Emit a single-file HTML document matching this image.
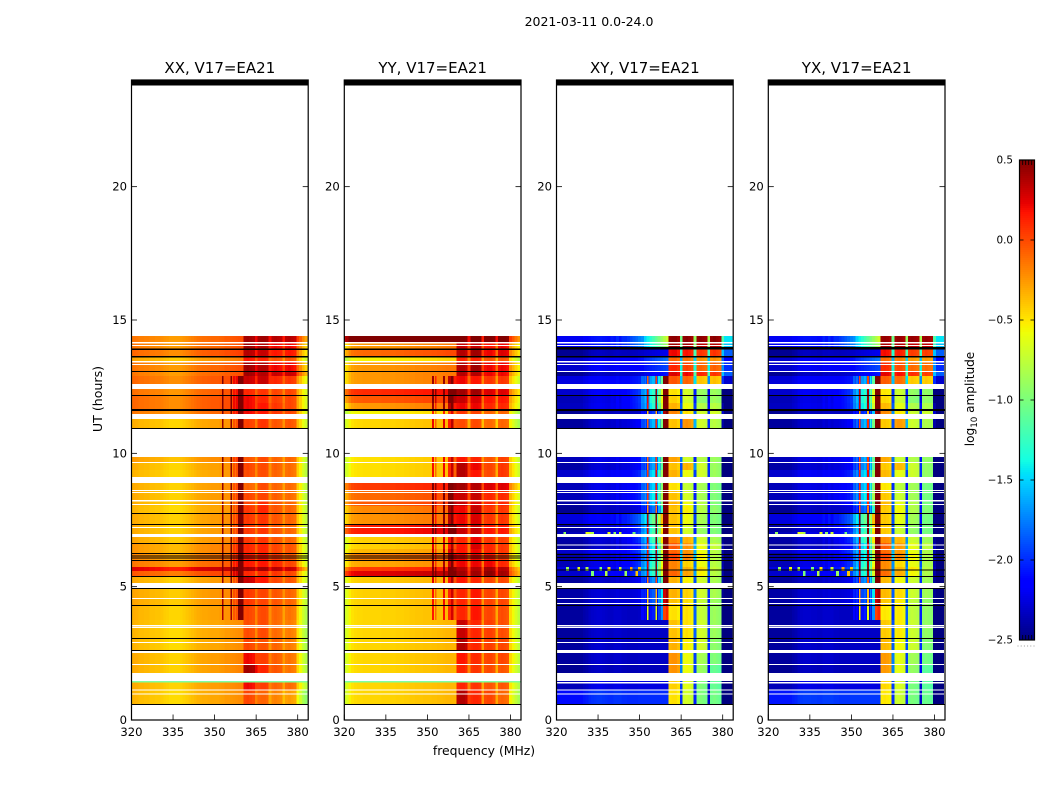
<!DOCTYPE html>
<html lang="en">
<head>
<meta charset="utf-8">
<title>2021-03-11 dynamic spectra</title>
<style>
html,body{margin:0;padding:0;background:#fff;}
svg{display:block;}
text{font-family:"DejaVu Sans","Liberation Sans",sans-serif;fill:#000;}
</style>
</head>
<body>
<svg id="figure" xmlns="http://www.w3.org/2000/svg" width="1050" height="800" viewBox="0 0 1050 800">
  <rect x="0" y="0" width="1050" height="800" fill="#fff"/>
  <text x="589" y="26" font-size="12.5" text-anchor="middle">2021-03-11 0.0-24.0</text>
  <text transform="translate(102,399) rotate(-90)" font-size="12.6" text-anchor="middle">UT (hours)</text>
  <text x="484" y="755" font-size="12.4" text-anchor="middle">frequency (MHz)</text>
  <text transform="translate(974,399) rotate(-90)" font-size="12.1" text-anchor="middle">log<tspan font-size="8.7" dy="3">10</tspan><tspan dy="-3"> amplitude</tspan></text>
  <g id="panels"></g>
  <g id="colorbar"></g>
</svg>
<script>
// ---- data ----
const panelTitles = ["XX, V17=EA21", "YY, V17=EA21", "XY, V17=EA21", "YX, V17=EA21"];
const freqTicks = [320, 335, 350, 365, 380];
const utTicks = [0, 5, 10, 15, 20];
const colorbarTicks = [0.5, 0.0, -0.5, -1.0, -1.5, -2.0, -2.5];
const firstChannel = 320;

// time band edges in UT hours (top to bottom)
const bandEdgesUT = [14.4,14.175,13.9125,13.65,13.425,13.0875,12.9,12.6,12.41,12.19,
  11.89,11.66,11.475,11.29,10.95,9.86,9.675,9.375,9.11,8.89,
  8.625,8.25,8.025,7.76,7.35,7.05,6.975,6.86,6.64,6.41,
  6.26,6.0,5.74,5.59,5.4,5.14,4.95,4.575,4.31,3.75,
  3.075,2.625,2.51,2.1,1.76,1.46,1.125,0.6];

// per-channel shape, 320..383: absolute log10 amplitude up to 360, offset from the sub-band level above
const spectrumXX = [-.37,-.34,-.35,-.37,-.37,-.38,-.38,-.40,-.40,-.41,
  -.41,-.42,-.44,-.45,-.47,-.47,-.47,-.47,-.46,-.44,
  -.42,-.40,-.38,-.36,-.34,-.33,-.32,-.32,-.31,-.30,
  -.30,-.30,-.29,-.28,-.26,-.26,-.25,-.24,-.23,-.22,
  -.22,0,.02,0,-.02,-.18,0,.02,.02,0,
  -.2,0,.02,0,-.02,-.18,0,.02,0,-.03,
  -.3,-.42,-.55,-.65];
const spectrumYY = [-.72,-.60,-.50,-.44,-.42,-.41,-.41,-.40,-.40,-.40,
  -.40,-.40,-.40,-.40,-.39,-.39,-.39,-.39,-.39,-.38,
  -.38,-.38,-.37,-.37,-.36,-.36,-.35,-.35,-.35,-.34,
  -.34,-.34,-.33,-.33,-.32,-.32,-.31,-.30,-.30,-.30,
  -.30,0,.02,.02,-.02,-.3,0,.02,.02,0,
  -.35,0,.02,.02,-.02,-.3,0,.02,0,-.03,
  -.45,-.55,-.65,-.75];
const spectrumXY = [-2.45,-2.45,-2.45,-2.45,-2.45,-2.45,-2.45,-2.45,-2.45,-2.45,
  -2.42,-2.40,-2.36,-2.34,-2.33,-2.32,-2.32,-2.33,-2.34,-2.35,
  -2.35,-2.33,-2.33,-2.33,-2.35,-2.35,-2.36,-2.36,-2.36,-2.36,
  -2.35,-2.35,-2.35,-2.35,-2.35,-2.35,-2.35,-2.35,-2.35,-2.35,
  -2.35,0,.02,.02,-.03,-1.5,0,.03,0,-.04,
  -1.35,0,.02,0,-.03,-1.3,0,.03,0,-.03,
  -1.6,-1.9,-1.9,-1.9];
const spectrumYX = [-2.45,-2.45,-2.45,-2.45,-2.45,-2.45,-2.45,-2.45,-2.45,-2.42,
  -2.40,-2.36,-2.34,-2.33,-2.33,-2.33,-2.34,-2.34,-2.35,-2.35,
  -2.33,-2.33,-2.33,-2.33,-2.35,-2.35,-2.36,-2.36,-2.36,-2.36,
  -2.35,-2.35,-2.35,-2.35,-2.35,-2.35,-2.35,-2.35,-2.35,-2.35,
  -2.35,-.02,0,-.02,-.05,-1.5,-.03,0,-.02,-.06,
  -1.35,-.02,0,-.02,-.05,-1.3,-.03,0,-.03,-.05,
  -1.6,-1.9,-1.9,-1.9];

// per-band level shift below the 360.5 MHz band edge
const lowXX = [.2,.2,.25,.05,.2,.2,.25,0,.22,.25,
  .25,.2,0,.02,0,.08,.02,0,0,.03,
  .03,.02,0,.03,.03,.03,0,.05,.1,.1,
  .15,.2,.6,.3,.03,0,.05,.05,.02,0,
  0,0,.03,.03,0,.03,0];
const lowYY = [1,.15,.3,-.15,.15,.15,.15,0,.5,.35,
  .15,-.15,0,-.05,0,-.08,-.08,-.08,0,.45,
  .3,.35,.2,.17,.55,.55,0,-.03,-.03,.05,
  .23,.1,.45,.65,-.02,0,-.03,-.03,-.05,-.05,
  -.05,0,-.05,-.05,0,-.05,-.05];
const lowXY = [.25,.25,0,.15,.15,0,.2,0,.15,.1,
  .12,0,0,.03,0,.1,.05,.15,0,.1,
  .1,.05,0,.2,.05,.1,0,.05,.02,.15,
  .05,.1,.2,.15,.02,0,.05,.05,.03,.03,
  .03,0,.03,0,0,.1,.35];
const lowYX = [.25,.25,0,.15,.15,0,.18,0,.15,.1,
  .12,0,0,.03,0,.1,.05,.15,0,.1,
  .1,.05,0,.2,.05,.1,0,.05,.02,.15,
  .05,.1,.2,.15,.02,0,.05,.05,.03,.03,
  .03,0,.03,0,0,.1,.38];

// per-band level of the four 5 MHz sub-bands above 360.5 MHz
const subBandsXX = [[.4,.4,.35,.35],[.4,.35,.2,.2],[.35,.3,.15,.15],[.15,.1,-.05,-.05],[.4,.35,.2,.2],[.4,.35,.3,.3],[.3,.3,.1,.05],[0,0,0,0],
  [.1,.05,0,0],[.2,.1,.02,0],[.2,.15,.05,0],[.2,.15,.05,0],[0,0,0,0],[.02,.05,-.05,-.05],[0,0,0,0],
  [-.05,-.02,-.1,-.1],[0,-.02,-.08,-.12],[-.02,-.03,-.1,-.13],[0,0,0,0],[-.1,-.02,-.1,-.12],[0,0,-.08,-.12],
  [0,.08,-.05,-.1],[.05,.1,-.05,-.1],[.05,.05,-.05,-.1],[.05,.05,-.05,-.1],[.05,.05,-.05,-.1],[0,0,0,0],
  [.05,.05,-.05,-.1],[.1,.1,0,-.05],[.1,.1,0,-.05],[.15,.15,.05,-.05],[.15,.15,.1,0],[.4,.4,.35,.3],
  [.1,.1,.05,0],[.3,.15,0,-.05],[0,0,0,0],[.05,0,-.05,-.1],[.05,0,-.05,-.1],[0,-.02,-.1,-.15],
  [-.02,-.02,-.12,-.18],[0,-.05,-.1,-.18],[0,0,0,0],[.2,.02,-.08,-.15],[.4,.1,-.05,-.15],[0,0,0,0],
  [.2,.02,-.1,-.12],[0,-.1,-.2,-.28]];
const subBandsYY = [[.5,.5,.5,.5],[.3,.3,.15,.2],[.35,.4,.2,.25],[.1,.1,-.05,-.05],[.35,.4,.2,.2],[.35,.35,.2,.2],[.2,.15,.05,.05],[0,0,0,0],
  [.4,.4,.25,.25],[.3,.25,.15,.15],[.2,.2,.1,.1],[.05,0,-.1,-.1],[0,0,0,0],[-.02,-.02,-.12,-.1],[0,0,0,0],
  [.15,.1,-.05,.02],[.35,.2,0,.05],[.35,.15,-.02,.05],[0,0,0,0],[.4,.35,.25,.25],[.3,.3,.1,.1],
  [.3,.25,.1,.1],[.2,.3,.05,.05],[.2,.25,.05,.05],[.3,.3,.15,.15],[.3,.3,.15,.15],[0,0,0,0],
  [.1,.2,.05,.02],[.15,.25,.1,.05],[.15,.2,.1,.05],[.2,.2,.15,.05],[.2,.2,.2,.1],[.35,.35,.4,.35],
  [.4,.4,.45,.4],[.15,.1,0,0],[0,0,0,0],[.1,.15,0,0],[.1,.1,0,0],[.1,.15,0,-.02],
  [.3,.1,.02,-.02],[.35,.1,.02,0],[0,0,0,0],[.15,.08,0,0],[.1,.05,-.02,-.05],[0,0,0,0],
  [.1,.05,-.05,-.05],[.35,.1,0,-.1]];
const subBandsCross = [[.45,.45,.45,.45],[.4,.4,.35,.35],[.2,.15,.05,.05],[-.1,-.15,-.25,-.25],[.1,0,-.1,-.1],[.25,.2,.1,.05],[-.05,-.1,-.4,-.4],[0,0,0,0],
  [-.5,-.7,-.9,-.9],[-.45,-.7,-.95,-.9],[-.35,-.6,-.8,-.8],[-.2,-.5,-.7,-.7],[0,0,0,0],[-.4,-.25,-.7,-.8],[0,0,0,0],
  [-.3,-.7,-.8,-.9],[-.4,-.35,-.7,-.9],[-.35,-.6,-.7,-.9],[0,0,0,0],[-.5,-.75,-.85,-1],[-.4,-.7,-.85,-1],
  [-.35,-.6,-.8,-1],[-.4,-.55,-.8,-.95],[-.4,-.6,-.85,-1],[-.4,-.7,-.9,-1],[-.4,-.7,-.9,-1],[0,0,0,0],
  [-.2,-.35,-.7,-.85],[-.05,-.25,-.6,-.75],[-.1,-.25,-.6,-.8],[0,-.2,-.55,-.8],[-.2,-.45,-.6,-.8],[-.2,-.35,-.5,-.75],
  [-.1,-.3,-.55,-.8],[-.35,-.55,-.7,-.85],[0,0,0,0],[-.35,-.45,-.7,-.85],[-.4,-.5,-.75,-.9],[-.5,-.5,-.75,-.9],
  [-.4,-.5,-.7,-.9],[-.35,-.55,-.7,-.95],[0,0,0,0],[-.25,-.6,-.85,-1],[-.25,-.6,-.9,-1.1],[0,0,0,0],
  [-.45,-.65,-1,-1.1],[-.5,-.7,-1,-1.05]];

// how strongly the interference lines show in each band
const rfiOn = [0,0,0,0,0,0,1,0,1,1,
  1,1,0,1,0,1,1,1,0,1,
  1,1,1,1,1,1,0,1,1,1,
  1,1,1,1,1,0,.9,.9,.9,0,
  0,0,0,0,0,0,0];
const rfiChannels = [351,352,353,354,355,356,357,358,359,360];
const rfiWidthMHz = [1,.6,.6,1,1,.6,.6,1,1,1];
const rfiBoostXX = [0,0,.7,0,0,.7,.2,.2,.85,.85];
const rfiBoostYY = [0,.6,.3,0,0,.6,0,.5,.7,.3];
const rfiBoostXY = [.2,.2,1.9,.25,.3,1.9,.4,.7,2.6,2.7];
const rfiBoostYX = [.2,.2,2.0,.25,.3,1.9,.4,.7,2.6,2.7];

// rise of the cross-hand level towards the band edge
const edgeOn = [1,.9,.1,.3,.2,.2,.3,0,.7,.8,
  .7,.1,0,.5,0,.4,.4,.5,0,.5,
  .6,.5,.3,.9,.9,.9,0,.9,.7,.7,
  .7,.8,.8,.7,.4,0,.2,.2,0,0,
  0,0,0,0,0,0,0];
const edgeChannels = [340,342,344,345,346,347,348,349,350,351,352,353,354,355,356,357,358,359,360];
const edgeBoost = [.05,.08,.1,.1,.15,.2,.25,.3,.35,.4,.6,.7,.8,.9,1,1.1,1.2,1.3,1.4];
const edgeNone = [0,0,0,0,0,0,0,0,0,0,0,0,0,0,0,0,0,0,0];

// isolated hot pixels in the cross hands: band, channel, value
const spikeBands = [25,25,25,25,25,25,25,25,32,32,32,32,32,32,32,32,33,33,33,33];
const spikeChannels = [323,331,332,333,339,341,343,348,324,328,331,336,339,343,347,350,333,338,345,349];
const spikeValues = [-.9,-.6,-.7,-.8,-.6,-.9,-.7,-1,-.9,-.6,-.8,-1,-.5,-.7,-.3,-.4,-1,-.8,-.9,-.4];

// flagged time ranges [start UT, end UT]
const whiteCoStart = [14.175,14.06,13.46,13.35,12.6,11.475,10.91,9.675,9.11,8.625,8.55,8.25,8.1,7.24,6.975,5.14,4.575,3.56,3.49,2.925,2.59,2.1,1.76,1.14,.99];
const whiteCoEnd = [14.125,14.025,13.41,13.31,12.41,11.29,9.86,9.64,8.89,8.59,8.51,8.2,8.06,7.2,6.86,4.95,4.54,3.51,3.45,2.89,2.51,2.06,1.46,1.11,.96];
const blackCoStart = [13.93,13.65,13.09,12.19,11.66,10.95,7.76,7.35,6.64,6.26,6.17,6.09,6.0,5.4,4.95,4.31,3.075,2.625,.6];
const blackCoEnd = [13.875,13.59,13.05,12.15,11.59,10.91,7.725,7.31,6.6,6.225,6.13,6.06,5.96,5.36,4.91,4.275,3.04,2.59,.56];
const whiteCrossStart = [14.175,14.06,13.46,13.35,13.09,12.6,11.475,10.91,9.675,9.11,8.625,8.55,8.25,8.1,7.24,6.975,6.58,6.41,5.14,4.575,4.39,3.56,3.49,2.925,2.625,2.1,1.76,1.425,1.14,.99];
const whiteCrossEnd = [14.125,14.025,13.41,13.31,13.05,12.41,11.29,9.86,9.64,8.89,8.59,8.51,8.2,8.06,7.2,6.86,6.54,6.375,4.95,4.54,4.35,3.51,3.45,2.89,2.51,2.06,1.46,1.375,1.11,.96];
const blackCrossStart = [13.99,13.65,12.19,11.66,10.95,7.76,7.35,6.225,6.12,6.0,5.65,5.4,4.95,4.31,3.075,.6];
const blackCrossEnd = [13.9,13.59,12.15,11.59,10.91,7.725,7.31,6.19,6.08,5.96,5.61,5.36,4.91,4.275,3.04,.56];
const cyanCoStart = [1.46];
const cyanCoEnd = [1.415];

const topRowStart = [24];
const topRowEnd = [23.8];

// ---- layout ----
const panelLefts = [131.5, 344.3, 556.5, 768.3];
const plotWidth = 176.7, plotTop = 80, plotBottom = 720;
const pxPerMHz = 2.77, utMax = 24;
const cbarLeft = 1019.5, cbarRight = 1034.5, cbarTop = 160, cbarBottom = 640, cbarMin = -2.5, cbarMax = 0.5;
const NS = "http://www.w3.org/2000/svg";

function xScale(left, f){ return left + (f - 320) * pxPerMHz; }
function yScale(ut){ return plotBottom - (plotBottom - plotTop) * ut / utMax; }
function cbarY(v){ return cbarBottom - (v - cbarMin) / (cbarMax - cbarMin) * (cbarBottom - cbarTop); }

function jet(v){
  const t = Math.max(0, Math.min(1, (v - cbarMin) / (cbarMax - cbarMin)));
  const seg = function(pts){
    for (let i = 1; i < pts.length; i++){
      if (t <= pts[i][0]){
        const a = pts[i-1], b = pts[i];
        return a[1] + (b[1] - a[1]) * (t - a[0]) / (b[0] - a[0]);
      }
    }
    return pts[pts.length-1][1];
  };
  const r = seg([[0,0],[.35,0],[.66,1],[.89,1],[1,.5]]);
  const g = seg([[0,0],[.125,0],[.375,1],[.64,1],[.91,0],[1,0]]);
  const b = seg([[0,.5],[.11,1],[.34,1],[.65,0],[1,0]]);
  return "rgb(" + Math.round(r*255) + "," + Math.round(g*255) + "," + Math.round(b*255) + ")";
}

function make(parent, tag, attrs){
  const el = document.createElementNS(NS, tag);
  for (const k in attrs) el.setAttribute(k, attrs[k]);
  parent.appendChild(el);
  return el;
}

const panelSpec = [
  {key:"xx", spec:spectrumXX, low:lowXX, sub:subBandsXX, rfi:rfiBoostXX, edge:edgeNone, spikes:false, whiteS:whiteCoStart, whiteE:whiteCoEnd, blackS:blackCoStart, blackE:blackCoEnd},
  {key:"yy", spec:spectrumYY, low:lowYY, sub:subBandsYY, rfi:rfiBoostYY, edge:edgeNone, spikes:false, whiteS:whiteCoStart, whiteE:whiteCoEnd, blackS:blackCoStart, blackE:blackCoEnd},
  {key:"xy", spec:spectrumXY, low:lowXY, sub:subBandsCross, rfi:rfiBoostXY, edge:edgeBoost, spikes:true, whiteS:whiteCrossStart, whiteE:whiteCrossEnd, blackS:blackCrossStart, blackE:blackCrossEnd},
  {key:"yx", spec:spectrumYX, low:lowYX, sub:subBandsCross, rfi:rfiBoostYX, edge:edgeBoost, spikes:true, whiteS:whiteCrossStart, whiteE:whiteCrossEnd, blackS:blackCrossStart, blackE:blackCrossEnd}
];

function drawFlags(group, left, starts, ends, color){
  for (let i = 0; i < starts.length; i++){
    const y0 = yScale(starts[i]), y1 = yScale(ends[i]);
    const r = make(group, "rect", {x:left, y:y0, width:plotWidth, height:y1 - y0, fill:color, "shape-rendering":"crispEdges"});
    
    
  }
}

const panelsRoot = document.getElementById("panels");
panelSpec.forEach(function(p, pi){
  const left = panelLefts[pi];
  const g = make(panelsRoot, "g", {});
  
  

  const cells = make(g, "g", {"shape-rendering":"crispEdges"});
  
  
  const fMax = 320 + plotWidth / pxPerMHz;

  for (let b = 0; b < bandEdgesUT.length - 1; b++){
    const yA = yScale(bandEdgesUT[b]), yB = yScale(bandEdgesUT[b+1]);
    for (let c = 0; c < p.spec.length; c++){
      const ch = firstChannel + c;
      let v;
      if (ch <= 360){
        v = p.spec[c] + p.low[b];
      } else {
        const k = Math.min(3, Math.floor((ch - 361) / 5));
        v = p.spec[c] + p.sub[b][k];
      }
      const ei = edgeChannels.indexOf(ch);
      if (ei >= 0) v += edgeOn[b] * p.edge[ei];
      if (p.spikes){
        for (let s = 0; s < spikeBands.length; s++){
          if (spikeBands[s] === b && spikeChannels[s] === ch) v = spikeValues[s];
        }
      }
      const fA = Math.max(320, ch - 0.5), fB = Math.min(fMax, ch + 0.5);
      const xA = xScale(left, fA), xB = xScale(left, fB);
      const r = make(cells, "rect", {x:xA, y:yA, width:xB - xA, height:yB - yA, fill:jet(v)});
      
      

      const ri = rfiChannels.indexOf(ch);
      if (ri >= 0 && rfiOn[b] > 0 && p.rfi[ri] > 0){
        const half = rfiWidthMHz[ri] / 2;
        const lineA = xScale(left, ch - half), lineB = xScale(left, ch + half);
        const line = make(cells, "rect", {x:lineA, y:yA, width:lineB - lineA, height:yB - yA, fill:jet(v + rfiOn[b] * p.rfi[ri])});
        
        
      }
    }
  }

  const flags = make(g, "g", {});
  
  
  drawFlags(flags, left, p.whiteS, p.whiteE, "#fff");
  drawFlags(flags, left, p.blackS, p.blackE, "#000");
  if (!p.spikes) drawFlags(flags, left, cyanCoStart, cyanCoEnd, "#7dffa0");
  drawFlags(flags, left, topRowStart, topRowEnd, "#000");

  const frame = make(g, "rect", {x:left, y:plotTop, width:plotWidth, height:plotBottom - plotTop, fill:"none", stroke:"#000", "stroke-width":"1.2"});
  
  

  const title = make(g, "text", {x:left + plotWidth/2, y:73, "font-size":"15", "text-anchor":"middle"});
  title.textContent = panelTitles[pi];
  
  

  freqTicks.forEach(function(f){
    const x = xScale(left, f);
    const tb = make(g, "line", {x1:x, x2:x, y1:plotBottom, y2:plotBottom - 5.5, stroke:"#000", "stroke-width":"0.8"});
    
    
    const tt = make(g, "line", {x1:x, x2:x, y1:plotTop, y2:plotTop + 5.5, stroke:"#000", "stroke-width":"0.8"});
    
    
    const lab = make(g, "text", {x:x, y:736, "font-size":"11.6", "text-anchor":"middle"});
    lab.textContent = String(f);
    
    
  });

  utTicks.forEach(function(u){
    const y = yScale(u);
    const tl = make(g, "line", {x1:left, x2:left + 5.5, y1:y, y2:y, stroke:"#000", "stroke-width":"0.8"});
    
    
    const tr = make(g, "line", {x1:left + plotWidth, x2:left + plotWidth - 5.5, y1:y, y2:y, stroke:"#000", "stroke-width":"0.8"});
    
    
    const lab = make(g, "text", {x:left - 4.5, y:y + 4, "font-size":"11.6", "text-anchor":"end"});
    lab.textContent = String(u);
    
    
  });
});

// ---- colour bar ----
const cb = document.getElementById("colorbar");
const cbSteps = 240;
for (let i = 0; i < cbSteps; i++){
  const v0 = cbarMin + (cbarMax - cbarMin) * i / cbSteps;
  const v1 = cbarMin + (cbarMax - cbarMin) * (i + 1) / cbSteps;
  const r = make(cb, "rect", {x:cbarLeft, y:cbarY(v1), width:cbarRight - cbarLeft, height:cbarY(v0) - cbarY(v1), fill:jet((v0 + v1) / 2), "shape-rendering":"crispEdges"});
  
  
}
const cbFrame = make(cb, "rect", {x:cbarLeft, y:cbarTop, width:cbarRight - cbarLeft, height:cbarBottom - cbarTop, fill:"none", stroke:"#000", "stroke-width":"1.2"});



colorbarTicks.forEach(function(v){
  const y = cbarY(v);
  const a = make(cb, "line", {x1:cbarLeft, x2:cbarLeft + 4, y1:y, y2:y, stroke:"#000", "stroke-width":"0.8"});
  
  
  const b = make(cb, "line", {x1:cbarRight, x2:cbarRight - 4, y1:y, y2:y, stroke:"#000", "stroke-width":"0.8"});
  
  
  const lab = make(cb, "text", {x:1013, y:y + 3.5, "font-size":"10.4", "text-anchor":"end"});
  lab.textContent = v.toFixed(1).replace("-", "\u2212");
  
  
});

for (let i = 0; i < 4; i++){
  const x = cbarLeft + 3.2 + i * 3;
  const t1 = make(cb, "line", {x1:x, x2:x, y1:cbarTop, y2:cbarTop + 5, stroke:"#000", "stroke-width":"0.8"});
  
  
  const t2 = make(cb, "line", {x1:x, x2:x, y1:cbarBottom, y2:cbarBottom - 5, stroke:"#000", "stroke-width":"0.8"});
  
  
}
for (let i = 0; i < 6; i++){
  const d = make(cb, "rect", {x:cbarLeft - 2 + i * 3.2, y:645.5, width:1, height:1, fill:"#999"});
  
  
}
</script>
</body>
</html>
